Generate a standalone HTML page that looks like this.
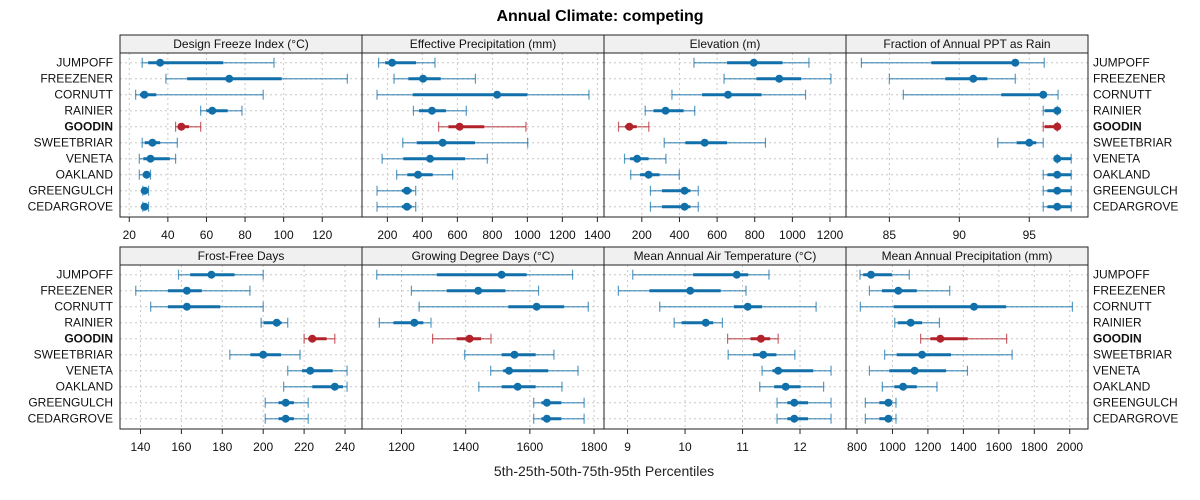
<!DOCTYPE html>
<html><head><meta charset="utf-8"><style>
html,body{margin:0;padding:0;background:#fff;}
svg{display:block;font-family:"Liberation Sans",sans-serif;}
</style></head><body>
<svg id="chart" width="1200" height="500" viewBox="0 0 1200 500" xmlns="http://www.w3.org/2000/svg">
<text x="600" y="21" text-anchor="middle" font-size="16" font-weight="bold" fill="#000">Annual Climate: competing</text>
<text x="604" y="476" text-anchor="middle" font-size="14" fill="#222">5th-25th-50th-75th-95th Percentiles</text>
<g id="panels"></g>
</svg>
<script>
const sites = ["JUMPOFF","FREEZENER","CORNUTT","RAINIER","GOODIN","SWEETBRIAR","VENETA","OAKLAND","GREENGULCH","CEDARGROVE"];
const highlightSite = "GOODIN";

const dfiP5  = [26.7,39,23.3,57,44,26.7,25.2,25.2,27,27];
const dfiP25 = [29.8,50,25.5,60,45.4,28,27.3,27,27.3,27.3];
const dfiP50 = [36,71.8,27.8,63,47,32,31,29,28,28];
const dfiP75 = [68.7,99,34,71,51,36,41,30.4,29,29];
const dfiP95 = [95,133,89.4,78.4,57,44.9,44,31,30,30];
const dfiTicks = [20,40,60,80,100,120];

const effP5  = [150,238,141,349,493,288,170,253,141,141];
const effP25 = [187,320,345,381,549,368,291,314,282,282];
const effP50 = [227,404,827,455,613,516,444,375,312,312];
const effP75 = [364,505,1000,535,754,701,644,459,339,339];
const effP95 = [472,703,1352,651,992,1002,771,573,362,362];
const effTicks = [200,400,600,800,1000,1200,1400];

const elevP5  = [477,637,360,218,76,319,108,141,246,246];
const elevP25 = [653,809,520,262,111,431,138,191,307,307];
const elevP50 = [795,930,658,326,134,534,175,236,427,427];
const elevP75 = [948,1047,836,422,173,653,236,294,458,458];
const elevP95 = [1088,1205,1070,481,237,857,328,399,500,500];
const elevTicks = [200,400,600,800,1000,1200];

const fracP5  = [83,85,86,96,96,92.75,97,96,96,96];
const fracP25 = [88,89,93,96.1,96.1,94.1,97,96.3,96.3,96.3];
const fracP50 = [94,91,96,97,97,95,97,97,97,97];
const fracP75 = [94.1,92,96.05,97,97,95.5,98,98,98,98];
const fracP95 = [96.07,94,97.06,97,97,96,98,98,98,98];
const fracTicks = [85,90,95];

const ffdP5  = [158.6,137.7,145,199,220,183.7,212,210,201,201];
const ffdP25 = [164.3,153.4,153.4,200.2,222,193.7,219,224,207.5,207.5];
const ffdP50 = [174.7,162.7,162.7,206.6,224,200,223,235,211,211];
const ffdP75 = [186,170,179,209,231,208.7,234,239,215,215];
const ffdP95 = [200,193.5,200,212,235,218,241,241,222,222];
const ffdTicks = [140,160,180,200,220,240];

const gddP5  = [1123,1231,1255,1131,1297,1397,1478,1441,1612,1612];
const gddP25 = [1310,1341,1533,1175,1372,1512,1517,1512,1636,1636];
const gddP50 = [1512,1439,1621,1240,1412,1552,1535,1562,1653,1653];
const gddP75 = [1590,1524,1707,1268,1448,1618,1657,1618,1698,1698];
const gddP95 = [1733,1627,1782,1292,1479,1675,1750,1700,1769,1769];
const gddTicks = [1200,1400,1600,1800];

const maatP5  = [9.09,8.84,9.56,9.81,10.74,10.75,11.34,11.3,11.6,11.6];
const maatP25 = [10.14,9.38,10.85,9.94,11.14,11.18,11.52,11.55,11.78,11.78];
const maatP50 = [10.9,10.09,11.09,10.36,11.32,11.36,11.62,11.75,11.9,11.9];
const maatP75 = [11.1,10.62,11.34,10.49,11.48,11.59,12.23,12.01,12.14,12.14];
const maatP95 = [11.46,11.06,12.28,10.65,11.62,11.91,12.54,12.41,12.54,12.54];
const maatTicks = [9,10,11,12];

const mapP5  = [817,870,819,1013,1159,956,870,943,847,847];
const mapP25 = [835,941,1007,1030,1214,1024,982,1011,926,926];
const mapP50 = [879,1033,1460,1103,1270,1167,1125,1060,977,977];
const mapP75 = [997,1137,1641,1167,1424,1330,1302,1137,992,992];
const mapP95 = [1095,1323,2015,1265,1644,1675,1423,1251,1020,1020];
const mapTicks = [800,1000,1200,1400,1600,1800,2000];

const NS = "http://www.w3.org/2000/svg";
const root = document.getElementById("panels");
function mk(tag, attrs, parent){
  const e = document.createElementNS(NS, tag);
  for (const k in attrs) e.setAttribute(k, attrs[k]);
  (parent||root).appendChild(e);
  return e;
}
const panels = [
  {title:"Design Freeze Index (°C)", col:0,row:0, dom:[15.2,140.6], p:[dfiP5,dfiP25,dfiP50,dfiP75,dfiP95], ticks:dfiTicks, key:"dfi"},
  {title:"Effective Precipitation (mm)", col:1,row:0, dom:[55,1438], p:[effP5,effP25,effP50,effP75,effP95], ticks:effTicks, key:"eff"},
  {title:"Elevation (m)", col:2,row:0, dom:[-1,1285], p:[elevP5,elevP25,elevP50,elevP75,elevP95], ticks:elevTicks, key:"elev"},
  {title:"Fraction of Annual PPT as Rain", col:3,row:0, dom:[81.9,99.2], p:[fracP5,fracP25,fracP50,fracP75,fracP95], ticks:fracTicks, key:"frac"},
  {title:"Frost-Free Days", col:0,row:1, dom:[130,248.3], p:[ffdP5,ffdP25,ffdP50,ffdP75,ffdP95], ticks:ffdTicks, key:"ffd"},
  {title:"Growing Degree Days (°C)", col:1,row:1, dom:[1077,1831], p:[gddP5,gddP25,gddP50,gddP75,gddP95], ticks:gddTicks, key:"gdd"},
  {title:"Mean Annual Air Temperature (°C)", col:2,row:1, dom:[8.59,12.8], p:[maatP5,maatP25,maatP50,maatP75,maatP95], ticks:maatTicks, key:"maat"},
  {title:"Mean Annual Precipitation (mm)", col:3,row:1, dom:[738,2103], p:[mapP5,mapP25,mapP50,mapP75,mapP95], ticks:mapTicks, key:"map"}
];
const colX = [120,362,604,846], W = 242;
const rowStrip = [35,247], rowTop = [53,265], rowBot = [217,429];

// row labels
[0,1].forEach(r=>{
  sites.forEach((s,i)=>{
    const y = rowTop[r] + 9.7 + 16*i + 4;
    const bold = s===highlightSite ? "bold" : "normal";
    const l = mk("text",{x:113,y:y,"text-anchor":"end","font-size":12,"font-weight":bold,fill:"#111"});
    
    
    l.textContent = s;
    const rl = mk("text",{x:1093,y:y,"text-anchor":"start","font-size":12,"font-weight":bold,fill:"#111"});
    
    
    rl.textContent = s;
  });
});

panels.forEach(P=>{
  const x0 = colX[P.col], top = rowTop[P.row], bot = rowBot[P.row];
  const g = mk("g",{});
  
  
  const sx = v => x0 + (v - P.dom[0]) / (P.dom[1]-P.dom[0]) * W;
  const yi = i => top + 9.7 + 16*i;
  // grid
  P.ticks.forEach(t=>{
    const gl = mk("line",{x1:sx(t),x2:sx(t),y1:top,y2:bot,stroke:"#c8c8c8","stroke-width":1,"stroke-dasharray":"2,3"},g);
    
    
  });
  sites.forEach((s,i)=>{
    const gh = mk("line",{x1:x0,x2:x0+W,y1:yi(i),y2:yi(i),stroke:"#c8c8c8","stroke-width":1,"stroke-dasharray":"2,3"},g);
    
    
  });
  // strip
  const st = mk("rect",{x:x0,y:rowStrip[P.row],width:W,height:top-rowStrip[P.row],fill:"#f0f0f0",stroke:"#222","stroke-width":1},g);
  
  
  const stt = mk("text",{x:x0+W/2,y:rowStrip[P.row]+13,"text-anchor":"middle","font-size":12,fill:"#111"},g);
  
  
  stt.textContent = P.title;
  // series
  sites.forEach((s,i)=>{
    const col = s===highlightSite ? "#b2222a" : "#1170aa";
    const y = yi(i);
    const [a,b,c,d,e] = P.p.map(arr=>arr[i]);
    const sg = mk("g",{},g);
    
    
    mk("line",{x1:sx(a),x2:sx(e),y1:y,y2:y,stroke:col,"stroke-width":1.5,"stroke-opacity":0.6},sg);
    mk("line",{x1:sx(a),x2:sx(a),y1:y-5,y2:y+5,stroke:col,"stroke-width":1.2,"stroke-opacity":0.7},sg);
    mk("line",{x1:sx(e),x2:sx(e),y1:y-5,y2:y+5,stroke:col,"stroke-width":1.2,"stroke-opacity":0.7},sg);
    mk("line",{x1:sx(b),x2:sx(d),y1:y,y2:y,stroke:col,"stroke-width":3},sg);
    mk("circle",{cx:sx(c),cy:y,r:4,fill:col},sg);
  });
  // frame
  const fr = mk("rect",{x:x0,y:top,width:W,height:bot-top,fill:"none",stroke:"#222","stroke-width":1},g);
  
  
  // ticks
  P.ticks.forEach(t=>{
    const tk = mk("line",{x1:sx(t),x2:sx(t),y1:bot,y2:bot+5,stroke:"#222","stroke-width":1},g);
    
    
    const tl = mk("text",{x:sx(t),y:bot+22,"text-anchor":"middle","font-size":12,fill:"#111"},g);
    
    
    tl.textContent = t;
  });
});
</script>
</body></html>
